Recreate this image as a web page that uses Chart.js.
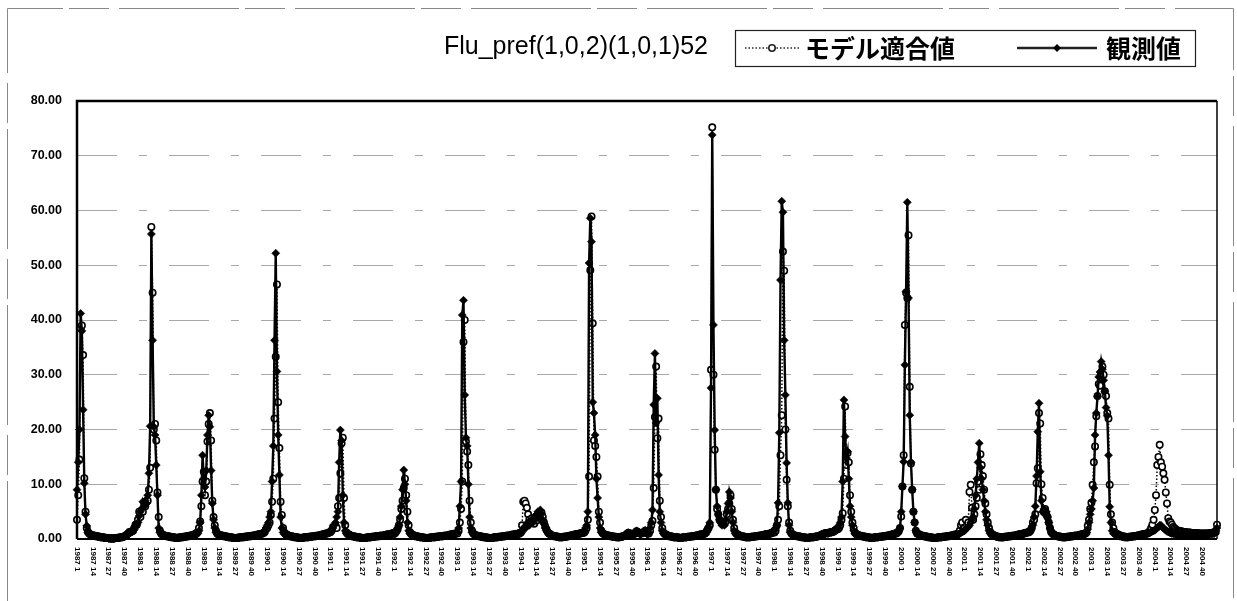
<!DOCTYPE html>
<html>
<head>
<meta charset="utf-8">
<script src="https://cdn.jsdelivr.net/npm/chart.js@4.4.0/dist/chart.umd.min.js"></script>
<style>
  html, body { margin: 0; padding: 0; background: #fff; }
  #wrap { width: 1237px; height: 601px; position: relative; }
</style>
</head>
<body>
<div id="wrap"><canvas id="fluChart" width="1237" height="601"></canvas></div>
<script>
const chartTitle = "Flu_pref(1,0,2)(1,0,1)52";
const seriesNames = ["モデル適合値", "観測値"];
const years = [1987, 1988, 1989, 1990, 1991, 1992, 1993, 1994, 1995,
               1996, 1997, 1998, 1999, 2000, 2001, 2002, 2003, 2004];
const weeksPerYear = 52;
const labelEvery = 13; // 1, 14, 27, 40
const yTicks = [0, 10, 20, 30, 40, 50, 60, 70, 80];

// weekly observed values, one year per block of four rows
const observed = [
  // 1987
  9.0, 14.0, 20.0, 41.2, 38.0, 23.6, 10.2, 4.5, 2.4, 1.2, 0.9, 0.8, 0.7,
  0.6, 0.6, 0.5, 0.5, 0.4, 0.4, 0.3, 0.3, 0.3, 0.2, 0.2, 0.2, 0.2,
  0.1, 0.1, 0.1, 0.1, 0.1, 0.1, 0.2, 0.2, 0.2, 0.2, 0.3, 0.3, 0.4,
  0.5, 0.7, 0.8, 0.9, 1.0, 1.2, 1.3, 1.5, 1.8, 2.2, 2.6, 3.0, 4.2,
  // 1988
  5.0, 5.5, 6.8, 6.0, 7.0, 6.5, 8.0, 12.0, 20.6, 55.7, 36.3, 20.5, 19.0,
  13.5, 8.0, 2.0, 1.2, 0.9, 0.8, 0.7, 0.6, 0.5, 0.5, 0.4, 0.4, 0.3,
  0.3, 0.3, 0.2, 0.2, 0.2, 0.2, 0.2, 0.3, 0.3, 0.3, 0.4, 0.4, 0.5,
  0.5, 0.5, 0.6, 0.6, 0.7, 0.7, 0.8, 0.8, 1.0, 1.5, 3.0, 8.0, 15.3,
  // 1989
  11.0, 9.5, 12.5, 19.0, 22.6, 20.5, 12.5, 6.5, 3.5, 2.0, 1.2, 0.9, 0.8,
  0.7, 0.6, 0.6, 0.5, 0.5, 0.4, 0.4, 0.3, 0.3, 0.3, 0.2, 0.2, 0.2,
  0.2, 0.2, 0.2, 0.2, 0.3, 0.3, 0.3, 0.3, 0.4, 0.4, 0.4, 0.5, 0.5,
  0.5, 0.6, 0.6, 0.6, 0.7, 0.7, 0.8, 0.8, 0.9, 1.0, 1.2, 1.5, 2.0,
  // 1990
  2.5, 3.0, 4.0, 5.0, 10.5, 17.0, 36.3, 52.2, 30.6, 19.0, 11.7, 4.0, 2.0,
  1.2, 0.9, 0.8, 0.7, 0.6, 0.5, 0.5, 0.4, 0.4, 0.3, 0.3, 0.3, 0.2,
  0.2, 0.2, 0.2, 0.2, 0.2, 0.3, 0.3, 0.3, 0.3, 0.4, 0.4, 0.4, 0.5,
  0.5, 0.5, 0.6, 0.6, 0.7, 0.7, 0.8, 0.8, 0.9, 0.9, 1.0, 1.2, 1.3,
  // 1991
  1.5, 1.8, 2.0, 2.5, 3.0, 4.0, 5.0, 14.0, 19.9, 18.0, 8.0, 3.0, 1.5,
  1.0, 0.8, 0.7, 0.6, 0.5, 0.5, 0.4, 0.4, 0.3, 0.3, 0.3, 0.2, 0.2,
  0.2, 0.2, 0.2, 0.2, 0.3, 0.3, 0.3, 0.3, 0.4, 0.4, 0.4, 0.5, 0.5,
  0.5, 0.6, 0.6, 0.6, 0.7, 0.7, 0.7, 0.8, 0.8, 0.9, 0.9, 1.0, 1.1,
  // 1992
  1.0, 1.2, 1.5, 2.0, 2.5, 4.0, 6.0, 9.0, 12.6, 10.0, 7.0, 3.0, 1.5,
  1.0, 0.8, 0.7, 0.6, 0.5, 0.5, 0.4, 0.4, 0.3, 0.3, 0.3, 0.2, 0.2,
  0.2, 0.2, 0.2, 0.2, 0.2, 0.3, 0.3, 0.3, 0.3, 0.4, 0.4, 0.4, 0.5,
  0.5, 0.5, 0.6, 0.6, 0.6, 0.7, 0.7, 0.7, 0.8, 0.8, 0.9, 0.9, 1.0,
  // 1993
  1.2, 2.0, 6.0, 10.5, 40.9, 43.6, 26.3, 18.5, 17.0, 10.0, 4.0, 2.0, 1.2,
  0.9, 0.8, 0.7, 0.6, 0.5, 0.5, 0.4, 0.4, 0.3, 0.3, 0.3, 0.2, 0.2,
  0.2, 0.2, 0.2, 0.2, 0.3, 0.3, 0.3, 0.3, 0.4, 0.4, 0.4, 0.5, 0.5,
  0.5, 0.6, 0.6, 0.6, 0.7, 0.7, 0.7, 0.8, 0.8, 0.8, 0.9, 0.9, 1.0,
  // 1994
  1.0, 1.3, 1.8, 2.2, 2.0, 2.8, 3.0, 2.5, 3.2, 3.5, 3.0, 4.0, 3.6,
  4.5, 5.0, 4.2, 5.3, 4.6, 3.5, 2.8, 2.0, 1.5, 1.2, 1.0, 0.8, 0.7,
  0.6, 0.5, 0.5, 0.4, 0.4, 0.3, 0.3, 0.3, 0.3, 0.4, 0.4, 0.4, 0.5,
  0.5, 0.6, 0.6, 0.7, 0.7, 0.8, 0.8, 0.9, 0.9, 1.0, 1.0, 1.1, 1.2,
  // 1995
  1.5, 2.0, 2.5, 5.0, 50.4, 58.6, 54.3, 25.0, 23.0, 19.0, 11.0, 7.5, 4.0,
  2.0, 1.2, 1.0, 0.9, 0.8, 0.7, 0.6, 0.6, 0.5, 0.5, 0.4, 0.4, 0.4,
  0.3, 0.3, 0.3, 0.3, 0.4, 0.4, 0.5, 0.6, 0.8, 1.0, 1.2, 1.0, 0.8,
  0.7, 0.8, 1.0, 1.3, 1.5, 1.2, 1.0, 0.9, 1.0, 1.2, 1.4, 1.6, 1.0,
  // 1996
  0.9, 1.2, 2.0, 3.0, 5.3, 24.5, 33.9, 21.2, 25.7, 11.7, 5.0, 3.0, 1.5,
  1.0, 0.8, 0.7, 0.6, 0.5, 0.5, 0.4, 0.4, 0.3, 0.3, 0.3, 0.3, 0.2,
  0.2, 0.2, 0.2, 0.3, 0.3, 0.3, 0.3, 0.4, 0.4, 0.4, 0.5, 0.5, 0.5,
  0.6, 0.6, 0.7, 0.7, 0.8, 0.8, 0.9, 0.9, 1.0, 1.3, 1.8, 2.2, 3.0,
  // 1997
  27.6, 73.8, 39.1, 19.9, 9.0, 6.0, 4.5, 3.5, 3.0, 2.5, 3.0, 2.5, 3.5,
  5.0, 6.5, 8.6, 7.5, 5.0, 3.0, 1.5, 1.0, 0.8, 0.7, 0.6, 0.5, 0.5,
  0.4, 0.4, 0.3, 0.3, 0.3, 0.3, 0.3, 0.4, 0.4, 0.4, 0.5, 0.5, 0.5,
  0.6, 0.6, 0.7, 0.7, 0.7, 0.8, 0.8, 0.9, 0.9, 1.0, 1.0, 1.2, 1.5,
  // 1998
  1.5, 2.0, 2.5, 6.6, 19.4, 47.3, 61.7, 59.7, 36.3, 26.3, 13.9, 6.6, 2.5,
  1.2, 0.9, 0.8, 0.7, 0.6, 0.5, 0.5, 0.4, 0.4, 0.3, 0.3, 0.3, 0.2,
  0.2, 0.2, 0.2, 0.3, 0.3, 0.3, 0.3, 0.4, 0.4, 0.4, 0.5, 0.6, 0.7,
  0.8, 0.9, 1.0, 1.0, 1.1, 1.0, 1.2, 1.3, 1.2, 1.4, 1.5, 1.6, 1.8,
  // 1999
  2.0, 2.5, 3.0, 4.0, 10.5, 25.4, 18.7, 14.8, 16.0, 11.0, 6.0, 4.0, 2.5,
  1.5, 1.0, 0.9, 0.8, 0.7, 0.6, 0.5, 0.5, 0.4, 0.4, 0.3, 0.3, 0.3,
  0.2, 0.2, 0.2, 0.2, 0.3, 0.3, 0.3, 0.3, 0.4, 0.4, 0.4, 0.5, 0.5,
  0.5, 0.6, 0.6, 0.7, 0.7, 0.8, 0.8, 0.9, 1.0, 1.1, 1.2, 1.5, 2.0,
  // 2000
  5.0, 9.6, 14.1, 31.8, 45.2, 61.5, 44.0, 22.6, 14.0, 9.0, 5.0, 3.0, 1.5,
  1.0, 0.9, 0.8, 0.7, 0.6, 0.5, 0.5, 0.4, 0.4, 0.3, 0.3, 0.3, 0.2,
  0.2, 0.2, 0.2, 0.2, 0.3, 0.3, 0.3, 0.3, 0.4, 0.4, 0.4, 0.5, 0.5,
  0.5, 0.6, 0.6, 0.6, 0.7, 0.7, 0.8, 0.8, 0.9, 1.0, 1.2, 1.3, 1.4,
  // 2001
  1.5, 1.8, 2.0, 2.2, 2.5, 3.0, 3.5, 4.0, 5.5, 8.0, 11.0, 14.0, 17.5,
  13.0, 11.0, 9.0, 7.0, 5.0, 3.5, 2.5, 1.5, 1.0, 0.8, 0.7, 0.6, 0.5,
  0.4, 0.4, 0.3, 0.3, 0.3, 0.3, 0.3, 0.4, 0.4, 0.4, 0.5, 0.5, 0.5,
  0.6, 0.6, 0.6, 0.7, 0.7, 0.8, 0.8, 0.9, 0.9, 1.0, 1.0, 1.1, 1.2,
  // 2002
  1.3, 1.4, 1.5, 2.0, 2.5, 4.0, 6.0, 11.5, 19.6, 24.8, 12.3, 7.0, 5.0,
  5.5, 4.5, 5.0, 4.0, 3.0, 2.0, 1.3, 1.0, 0.8, 0.7, 0.6, 0.5, 0.5,
  0.4, 0.4, 0.3, 0.3, 0.3, 0.3, 0.4, 0.4, 0.4, 0.5, 0.5, 0.5, 0.6,
  0.6, 0.6, 0.7, 0.7, 0.8, 0.8, 0.9, 0.9, 1.0, 1.2, 1.8, 3.0, 4.5,
  // 2003
  5.5, 7.0, 9.3, 19.0, 23.0, 26.0, 29.6, 30.5, 32.4, 31.0, 29.0, 27.0, 24.0,
  22.5, 15.3, 5.9, 3.0, 1.5, 1.0, 0.9, 0.8, 0.7, 0.6, 0.5, 0.5, 0.4,
  0.4, 0.3, 0.3, 0.3, 0.3, 0.4, 0.4, 0.4, 0.5, 0.5, 0.5, 0.6, 0.6,
  0.7, 0.7, 0.8, 0.8, 0.9, 0.9, 1.0, 1.0, 1.1, 1.2, 1.3, 1.4, 1.5,
  // 2004
  1.6, 1.8, 2.0, 2.2, 2.5, 2.5, 2.2, 2.0, 1.8, 1.6, 1.4, 1.3, 1.2,
  1.1, 1.0, 1.0, 0.9, 0.9, 0.8, 0.8, 0.8, 0.7, 0.7, 0.7, 0.7, 0.7,
  0.6, 0.6, 0.6, 0.6, 0.6, 0.6, 0.6, 0.6, 0.6, 0.7, 0.7, 0.7, 0.7,
  0.7, 0.7, 0.8, 0.8, 0.8, 0.8, 0.9, 0.9, 0.9, 1.0, 1.0, 1.5, 2.0,
];

// weekly model fitted values, same layout
const fitted = [
  // 1987
  3.5, 8.0, 14.5, 38.5, 39.0, 33.6, 11.1, 5.0, 2.0, 1.3, 1.0, 0.8, 0.7,
  0.7, 0.6, 0.6, 0.5, 0.5, 0.4, 0.4, 0.3, 0.3, 0.3, 0.2, 0.2, 0.2,
  0.2, 0.1, 0.1, 0.1, 0.1, 0.2, 0.2, 0.2, 0.2, 0.3, 0.3, 0.3, 0.4,
  0.5, 0.6, 0.8, 1.0, 1.3, 1.3, 1.4, 1.5, 2.0, 2.6, 2.6, 3.5, 5.0,
  // 1988
  4.0, 5.2, 5.0, 6.5, 6.0, 6.8, 7.0, 9.0, 13.0, 57.0, 45.0, 20.0, 21.0,
  18.0, 8.5, 4.0, 1.5, 1.0, 0.8, 0.7, 0.6, 0.6, 0.5, 0.5, 0.4, 0.4,
  0.3, 0.3, 0.3, 0.2, 0.2, 0.2, 0.3, 0.3, 0.3, 0.4, 0.4, 0.4, 0.5,
  0.5, 0.6, 0.6, 0.7, 0.7, 0.8, 0.9, 1.0, 1.3, 2.0, 3.2, 6.0, 10.5,
  // 1989
  12.3, 8.0, 10.5, 17.8, 21.0, 23.0, 18.0, 7.0, 4.0, 2.5, 1.5, 1.0, 0.8,
  0.7, 0.7, 0.6, 0.6, 0.5, 0.5, 0.4, 0.4, 0.3, 0.3, 0.3, 0.2, 0.2,
  0.2, 0.2, 0.2, 0.3, 0.3, 0.3, 0.3, 0.4, 0.4, 0.4, 0.5, 0.5, 0.5,
  0.6, 0.6, 0.6, 0.7, 0.7, 0.8, 0.8, 0.9, 0.9, 1.0, 1.1, 1.3, 1.8,
  // 1990
  2.0, 2.5, 3.0, 4.4, 6.8, 11.0, 22.0, 33.3, 46.5, 25.0, 16.6, 6.8, 4.4,
  2.0, 1.2, 0.9, 0.8, 0.7, 0.6, 0.5, 0.5, 0.4, 0.4, 0.3, 0.3, 0.3,
  0.2, 0.2, 0.2, 0.2, 0.3, 0.3, 0.3, 0.3, 0.4, 0.4, 0.4, 0.5, 0.5,
  0.5, 0.6, 0.6, 0.6, 0.7, 0.7, 0.8, 0.8, 0.9, 1.0, 1.0, 1.1, 1.2,
  // 1991
  1.3, 1.6, 2.2, 2.0, 2.5, 2.0, 6.0, 7.5, 12.0, 17.5, 18.5, 7.5, 2.5,
  1.2, 0.9, 0.8, 0.7, 0.6, 0.5, 0.5, 0.4, 0.4, 0.3, 0.3, 0.3, 0.2,
  0.2, 0.2, 0.2, 0.2, 0.3, 0.3, 0.3, 0.3, 0.4, 0.4, 0.4, 0.5, 0.5,
  0.5, 0.5, 0.6, 0.6, 0.6, 0.7, 0.7, 0.8, 0.8, 0.8, 0.9, 1.0, 1.0,
  // 1992
  0.9, 1.1, 1.4, 1.8, 2.5, 3.5, 5.5, 7.0, 9.3, 11.0, 8.0, 5.0, 2.5,
  1.3, 0.9, 0.8, 0.7, 0.6, 0.5, 0.5, 0.4, 0.4, 0.3, 0.3, 0.3, 0.2,
  0.2, 0.2, 0.2, 0.2, 0.3, 0.3, 0.3, 0.3, 0.4, 0.4, 0.4, 0.5, 0.5,
  0.5, 0.5, 0.6, 0.6, 0.6, 0.7, 0.7, 0.8, 0.8, 0.9, 0.9, 1.0, 1.0,
  // 1993
  1.0, 1.5, 3.0, 5.5, 10.5, 36.0, 40.0, 17.8, 16.0, 13.5, 7.0, 3.0, 1.5,
  1.0, 0.8, 0.7, 0.6, 0.6, 0.5, 0.5, 0.4, 0.4, 0.3, 0.3, 0.3, 0.2,
  0.2, 0.2, 0.2, 0.2, 0.3, 0.3, 0.3, 0.3, 0.4, 0.4, 0.4, 0.5, 0.5,
  0.5, 0.6, 0.6, 0.6, 0.7, 0.7, 0.8, 0.8, 0.8, 0.9, 0.9, 1.0, 1.1,
  // 1994
  1.2, 2.5, 6.8, 7.0, 6.5, 5.7, 4.5, 3.5, 3.0, 3.8, 3.2, 2.8, 4.0,
  3.4, 4.5, 4.8, 3.8, 4.8, 4.0, 3.0, 2.3, 1.8, 1.3, 1.0, 0.9, 0.7,
  0.6, 0.6, 0.5, 0.5, 0.4, 0.4, 0.3, 0.3, 0.3, 0.4, 0.4, 0.4, 0.5,
  0.5, 0.6, 0.6, 0.7, 0.7, 0.8, 0.8, 0.9, 0.9, 1.0, 1.0, 1.1, 1.1,
  // 1995
  1.2, 1.5, 2.0, 3.5, 11.4, 49.1, 58.9, 39.4, 18.0, 17.0, 15.0, 11.4, 5.0,
  3.0, 1.5, 1.1, 0.9, 0.8, 0.7, 0.7, 0.6, 0.6, 0.5, 0.5, 0.4, 0.4,
  0.4, 0.3, 0.3, 0.3, 0.4, 0.4, 0.5, 0.6, 0.7, 0.9, 1.1, 1.1, 0.9,
  0.8, 0.8, 0.9, 1.2, 1.4, 1.3, 1.1, 1.0, 1.0, 1.1, 1.3, 1.5, 1.2,
  // 1996
  1.0, 1.0, 1.5, 2.5, 3.3, 9.3, 22.3, 31.5, 18.4, 22.0, 7.0, 4.0, 2.0,
  1.2, 0.9, 0.8, 0.7, 0.6, 0.5, 0.5, 0.4, 0.4, 0.3, 0.3, 0.3, 0.3,
  0.2, 0.2, 0.2, 0.3, 0.3, 0.3, 0.3, 0.4, 0.4, 0.4, 0.5, 0.5, 0.5,
  0.6, 0.6, 0.7, 0.7, 0.8, 0.8, 0.9, 0.9, 1.0, 1.2, 1.6, 2.0, 2.5,
  // 1997
  30.9, 75.2, 30.0, 16.3, 9.0, 5.5, 4.5, 3.5, 3.2, 2.8, 3.0, 2.8, 3.2,
  4.5, 5.5, 6.5, 8.0, 5.5, 3.5, 2.0, 1.2, 0.9, 0.8, 0.7, 0.6, 0.5,
  0.5, 0.4, 0.4, 0.3, 0.3, 0.3, 0.3, 0.4, 0.4, 0.4, 0.5, 0.5, 0.5,
  0.6, 0.6, 0.6, 0.7, 0.7, 0.8, 0.8, 0.9, 0.9, 1.0, 1.0, 1.1, 1.3,
  // 1998
  1.2, 1.5, 2.5, 3.5, 6.0, 15.3, 22.6, 52.5, 49.0, 20.0, 10.8, 6.0, 3.0,
  1.5, 1.0, 0.8, 0.7, 0.6, 0.6, 0.5, 0.5, 0.4, 0.4, 0.3, 0.3, 0.3,
  0.2, 0.2, 0.2, 0.3, 0.3, 0.3, 0.3, 0.4, 0.4, 0.5, 0.5, 0.6, 0.7,
  0.8, 0.9, 1.0, 1.1, 1.0, 1.1, 1.2, 1.2, 1.3, 1.3, 1.4, 1.6, 1.8,
  // 1999
  1.8, 2.0, 2.5, 3.5, 4.7, 11.0, 24.2, 13.5, 15.7, 14.0, 8.0, 5.0, 3.0,
  2.0, 1.2, 0.9, 0.8, 0.7, 0.6, 0.6, 0.5, 0.5, 0.4, 0.4, 0.3, 0.3,
  0.3, 0.2, 0.2, 0.2, 0.3, 0.3, 0.3, 0.3, 0.4, 0.4, 0.4, 0.5, 0.5,
  0.5, 0.6, 0.6, 0.7, 0.7, 0.8, 0.8, 0.9, 1.0, 1.0, 1.2, 1.4, 2.0,
  // 2000
  4.1, 9.6, 15.3, 39.1, 45.0, 44.0, 55.5, 27.8, 13.8, 9.0, 5.0, 3.0, 1.5,
  1.0, 0.9, 0.8, 0.7, 0.6, 0.6, 0.5, 0.5, 0.4, 0.4, 0.3, 0.3, 0.3,
  0.2, 0.2, 0.2, 0.2, 0.3, 0.3, 0.3, 0.3, 0.4, 0.4, 0.4, 0.5, 0.5,
  0.5, 0.6, 0.6, 0.7, 0.7, 0.8, 0.8, 0.9, 1.0, 1.5, 2.5, 3.0, 2.0,
  // 2001
  2.0, 3.5, 2.5, 3.0, 8.6, 9.9, 5.7, 3.5, 4.5, 6.0, 7.5, 10.5, 9.0,
  15.5, 13.5, 11.5, 9.0, 6.5, 4.5, 3.0, 2.0, 1.3, 0.9, 0.8, 0.7, 0.6,
  0.5, 0.4, 0.4, 0.3, 0.3, 0.3, 0.3, 0.4, 0.4, 0.4, 0.5, 0.5, 0.5,
  0.6, 0.6, 0.6, 0.7, 0.7, 0.8, 0.8, 0.9, 0.9, 1.0, 1.0, 1.1, 1.2,
  // 2002
  1.2, 1.3, 1.5, 2.0, 3.0, 3.5, 4.5, 10.2, 12.9, 23.0, 21.1, 10.0, 7.5,
  5.0, 5.5, 4.5, 4.0, 3.0, 2.0, 1.3, 1.0, 0.8, 0.7, 0.6, 0.5, 0.5,
  0.4, 0.4, 0.3, 0.3, 0.3, 0.3, 0.4, 0.4, 0.4, 0.5, 0.5, 0.5, 0.6,
  0.6, 0.6, 0.7, 0.7, 0.8, 0.8, 0.9, 0.9, 1.0, 1.2, 2.4, 3.5, 5.5,
  // 2003
  6.6, 9.9, 14.0, 16.9, 22.4, 26.1, 28.3, 28.0, 30.0, 31.5, 30.0, 27.0, 26.1,
  23.0, 22.0, 9.9, 4.5, 3.0, 2.0, 1.3, 1.0, 0.9, 0.8, 0.7, 0.6, 0.5,
  0.5, 0.4, 0.4, 0.3, 0.3, 0.4, 0.4, 0.4, 0.5, 0.5, 0.5, 0.6, 0.6,
  0.7, 0.7, 0.8, 0.8, 0.9, 0.9, 1.0, 1.0, 1.2, 1.5, 2.0, 2.6, 3.5,
  // 2004
  5.3, 8.0, 13.5, 15.0, 17.2, 14.0, 13.2, 12.0, 10.8, 8.5, 6.5, 3.8, 3.2,
  3.0, 2.6, 2.2, 2.0, 1.8, 1.6, 1.5, 1.5, 1.4, 1.4, 1.3, 1.3, 1.3,
  1.2, 1.2, 1.2, 1.2, 1.1, 1.1, 1.1, 1.1, 1.1, 1.1, 1.0, 1.0, 1.0,
  1.0, 1.0, 1.0, 1.0, 1.0, 1.0, 1.1, 1.1, 1.1, 1.2, 1.3, 1.3, 2.6, 5.5,
];

// "1987 1", "1987 2", ... one label per week
const weekLabels = [];
years.forEach(function (y) {
  for (let w = 1; w <= weeksPerYear; w++) weekLabels.push(y + " " + w);
});

// outer frame, title and boxed legend
const decorPlugin = {
  id: "decor",
  beforeDraw(chart) {
    const ctx = chart.ctx;
    ctx.save();
    ctx.fillStyle = "#fff";
    ctx.fillRect(0, 0, chart.width, chart.height);
    ctx.strokeStyle = "#888";
    ctx.lineWidth = 1;
    ctx.setLineDash([120, 6, 40, 10]);
    ctx.beginPath();
    ctx.moveTo(7.5, 601); ctx.lineTo(7.5, 8.5); ctx.lineTo(1233.5, 8.5); ctx.lineTo(1233.5, 601);
    ctx.stroke();
    ctx.restore();
  },
  afterDraw(chart) {
    const ctx = chart.ctx;
    ctx.save();
    ctx.fillStyle = "#000";
    ctx.textBaseline = "middle";
    ctx.textAlign = "center";
    ctx.font = "25px 'Liberation Sans', Arial, sans-serif";
    ctx.fillText(chartTitle, 576, 47);

    // legend box
    ctx.strokeStyle = "#222";
    ctx.lineWidth = 1.2;
    ctx.strokeRect(735.5, 30.5, 460, 36);

    // fitted sample: dotted line with open circle
    ctx.lineWidth = 1.5;
    ctx.setLineDash([1.5, 2]);
    ctx.beginPath(); ctx.moveTo(745, 48); ctx.lineTo(800, 48); ctx.stroke();
    ctx.setLineDash([]);
    ctx.beginPath(); ctx.arc(772, 48, 3.2, 0, Math.PI * 2);
    ctx.fillStyle = "#fff"; ctx.fill(); ctx.lineWidth = 1.6; ctx.stroke();

    // observed sample: solid line with diamond
    ctx.lineWidth = 2.4;
    ctx.beginPath(); ctx.moveTo(1017, 48); ctx.lineTo(1097, 48); ctx.stroke();
    ctx.fillStyle = "#000";
    ctx.beginPath();
    ctx.moveTo(1057, 44); ctx.lineTo(1061, 48); ctx.lineTo(1057, 52); ctx.lineTo(1053, 48);
    ctx.closePath(); ctx.fill();

    ctx.textAlign = "left";
    ctx.font = "bold 25px 'Noto Sans CJK JP', sans-serif";
    ctx.fillText(seriesNames[0], 805, 48);
    ctx.fillText(seriesNames[1], 1106, 48);

    // rotated week labels under the axis
    const xs = chart.scales.x;
    ctx.font = "bold 8px 'Liberation Sans', Arial, sans-serif";
    ctx.textAlign = "left";
    ctx.textBaseline = "middle";
    weekLabels.forEach(function (lab, i) {
      if (i % labelEvery !== 0) return;
      const x = xs.getPixelForValue(i);
      ctx.save();
      ctx.translate(x, 547);
      ctx.rotate(Math.PI / 2);
      ctx.fillText(lab, 0, 0);
      ctx.restore();
    });
    ctx.restore();
  },
  afterDatasetsDraw(chart) {
    const a = chart.chartArea;
    const ctx = chart.ctx;
    ctx.save();
    ctx.strokeStyle = "#000";
    ctx.lineWidth = 2.5;
    ctx.beginPath();
    ctx.moveTo(a.left, a.bottom); ctx.lineTo(a.left, a.top); ctx.lineTo(a.right, a.top);
    ctx.stroke();
    ctx.lineWidth = 1.5;
    ctx.beginPath(); ctx.moveTo(a.right, a.top); ctx.lineTo(a.right, a.bottom); ctx.stroke();
    ctx.lineWidth = 2;
    ctx.beginPath(); ctx.moveTo(a.left, a.bottom); ctx.lineTo(a.right, a.bottom); ctx.stroke();
    ctx.restore();
  }
};

const fluChart = document.getElementById("fluChart").getContext("2d");
new Chart(fluChart, {
  type: "line",
  data: {
    labels: weekLabels,
    datasets: [
      {
        label: seriesNames[1],
        data: observed,
        borderColor: "#000",
        borderWidth: 2.4,
        pointStyle: "rectRot",
        pointRadius: 4,
        pointBackgroundColor: "#000",
        pointBorderColor: "#000",
        pointBorderWidth: 0.6,
        tension: 0,
        clip: false,
        order: 1,
      },
      {
        label: seriesNames[0],
        data: fitted,
        borderColor: "#000",
        borderWidth: 1.5,
        borderDash: [1.5, 2],
        pointStyle: "circle",
        pointRadius: 3.2,
        pointBackgroundColor: "#fff",
        pointBorderColor: "#000",
        pointBorderWidth: 1.6,
        tension: 0,
        clip: false,
        order: 2,
      },
    ],
  },
  options: {
    responsive: false,
    animation: false,
    layout: { padding: { top: 101, right: 20, bottom: 62, left: 0 } },
    plugins: {
      legend: { display: false },
      title: { display: false },
      tooltip: { enabled: false },
    },
    scales: {
      x: { display: false },
      y: {
        min: yTicks[0],
        max: yTicks[yTicks.length - 1],
        afterBuildTicks(scale) {
          scale.ticks = yTicks.map(function (v) { return { value: v }; });
        },
        afterFit(scale) { scale.width = 77; },
        ticks: {
          padding: 15,
          color: "#000",
          font: { family: "'Liberation Sans', Arial, sans-serif", size: 12.5, weight: "bold" },
          callback: function (v) { return Number(v).toFixed(2); },
        },
        grid: {
          drawTicks: false,
          lineWidth: 1,
          color: function (c) {
            const v = c.tick && c.tick.value;
            return v === 0 || v === 80 ? "rgba(0,0,0,0)" : "#a8a8a8";
          },
        },
        border: { display: false, dash: [40, 22, 8, 22] },
      },
    },
  },
  plugins: [decorPlugin],
});
</script>
</body>
</html>
